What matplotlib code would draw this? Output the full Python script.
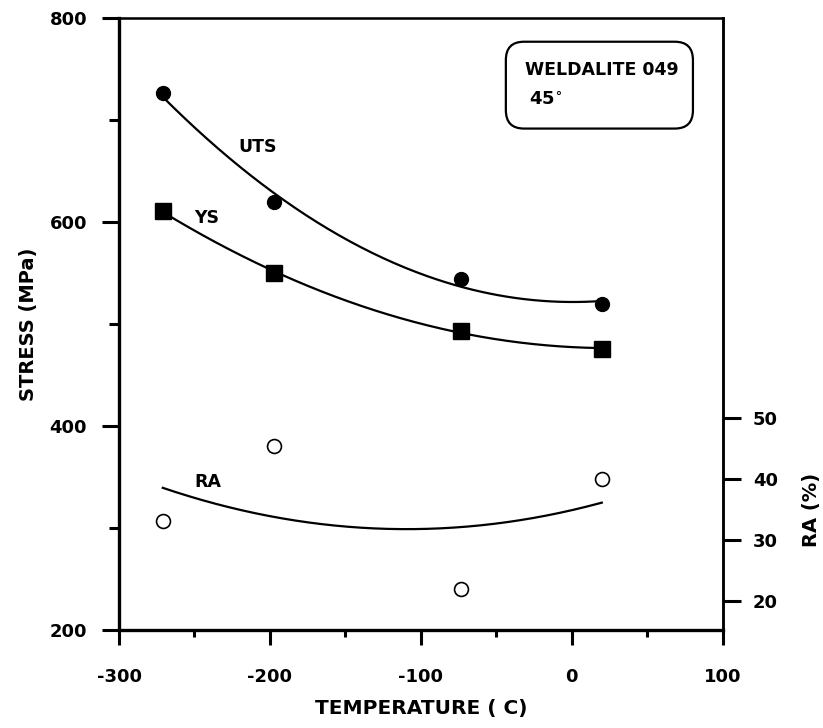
import numpy as np
import matplotlib
matplotlib.use("Agg")
import matplotlib.pyplot as plt
from matplotlib.patches import FancyBboxPatch
from matplotlib.ticker import MultipleLocator

# data
temp = [-271, -197, -73, 20]
uts = [727, 620, 544, 520]
ys = [611, 550, 493, 476]
ra = [33.1, 45.3, 22.0, 40.0]

plt.rcParams['font.family'] = ['DejaVu Sans']
plt.rcParams['font.weight'] = 'bold'
plt.rcParams['axes.unicode_minus'] = False

fig = plt.figure(figsize=(8.23, 7.28), dpi=100)
ax = fig.add_axes([0.1446, 0.1346, 0.7333, 0.84])

# trend lines (quadratic fits through the data)
xx = np.linspace(min(temp), max(temp), 200)
for vals in (uts, ys):
    c = np.polyfit(temp, vals, 2)
    ax.plot(xx, np.polyval(c, xx), color='black', lw=1.6)

ax.plot(temp, uts, 'o', color='black', ms=10)
ax.plot(temp, ys, 's', color='black', ms=11)

ax.set_xlim(-300, 100)
ax.set_ylim(200, 800)
ax.set_xticks([-300, -200, -100, 0, 100])
ax.set_yticks([200, 400, 600, 800])
ax.xaxis.set_minor_locator(MultipleLocator(50))
ax.yaxis.set_minor_locator(MultipleLocator(100))
ax.tick_params(axis='both', which='major', width=2.2, labelsize=13)
ax.tick_params(axis='x', which='major', length=11, pad=16)
ax.tick_params(axis='x', which='minor', length=5, width=2.2)
ax.tick_params(axis='y', which='major', length=12, pad=11)
ax.tick_params(axis='y', which='minor', length=7, width=2.2)
ax.spines['left'].set_linewidth(2.4)
ax.spines['bottom'].set_linewidth(2.4)
ax.spines['top'].set_linewidth(1.8)
ax.spines['right'].set_linewidth(1.8)

ax.set_xlabel('TEMPERATURE ( C)', fontsize=14.5, fontweight='bold', labelpad=10)
ax.set_ylabel('STRESS (MPa)', fontsize=14, fontweight='bold', labelpad=8)

# RA on the right scale
ax2 = ax.twinx()
ax2.set_ylim(15.25, 115.25)
ax2.set_yticks([20, 30, 40, 50])
c = np.polyfit(temp, ra, 2)
ax2.plot(xx, np.polyval(c, xx), color='black', lw=1.6)
ax2.plot(temp, ra, 'o', mfc='white', mec='black', mew=1.2, ms=10)
ax2.tick_params(axis='y', length=13, width=2.2, pad=9, labelsize=13)
ax2.spines['right'].set_linewidth(1.8)
ax2.set_ylabel('RA (%)', fontsize=14, fontweight='bold')
ax2.yaxis.set_label_coords(1.131, 0.196)

ax.text(-208, 674, 'UTS', fontsize=12.5, fontweight='bold', ha='center', va='center')
ax.text(-242, 604, 'YS', fontsize=12.5, fontweight='bold', ha='center', va='center')
ax.text(-241, 345, 'RA', fontsize=12.5, fontweight='bold', ha='center', va='center')

box = FancyBboxPatch((0.641, 0.820), 0.31, 0.142, boxstyle='round,pad=0,rounding_size=0.03',
                     transform=ax.transAxes, fc='white', ec='black', lw=1.6)
ax.add_patch(box)
ax.text(0.672, 0.916, 'WELDALITE 049', transform=ax.transAxes, fontsize=12.5,
        fontweight='bold', va='center')
ax.text(0.680, 0.866, r'45$^{\circ}$', transform=ax.transAxes, fontsize=13,
        fontweight='bold', va='center')

fig.savefig('out.png', dpi=100)
